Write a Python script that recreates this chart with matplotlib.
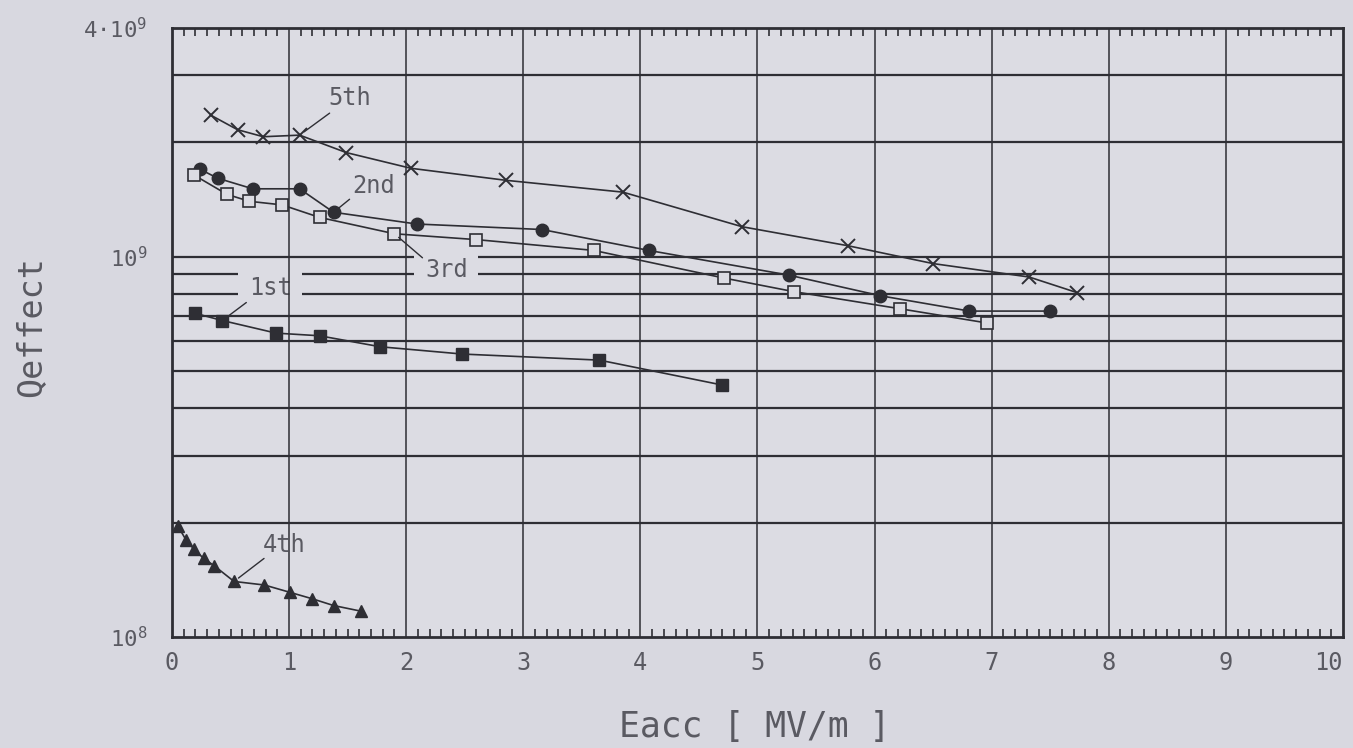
import matplotlib.pyplot as plt
from matplotlib.ticker import MultipleLocator, FixedLocator, NullFormatter

# values
x_1st = [0.20, 0.43, 0.89, 1.26, 1.78, 2.48, 3.65, 4.70]
q_1st = [7.1e8, 6.8e8, 6.3e8, 6.2e8, 5.8e8, 5.55e8, 5.35e8, 4.6e8]

x_2nd = [0.24, 0.39, 0.69, 1.09, 1.38, 2.09, 3.16, 4.07, 5.27, 6.05, 6.81, 7.50]
q_2nd = [1.70e9, 1.61e9, 1.51e9, 1.51e9, 1.31e9, 1.22e9, 1.18e9, 1.04e9, 8.95e8, 7.9e8, 7.2e8, 7.2e8]

x_3rd = [0.19, 0.47, 0.66, 0.94, 1.26, 1.90, 2.60, 3.60, 4.71, 5.31, 6.22, 6.96]
q_3rd = [1.64e9, 1.46e9, 1.40e9, 1.37e9, 1.27e9, 1.15e9, 1.11e9, 1.04e9, 8.8e8, 8.1e8, 7.3e8, 6.7e8]

x_4th = [0.05, 0.12, 0.19, 0.27, 0.36, 0.53, 0.79, 1.01, 1.20, 1.38, 1.61]
q_4th = [1.96e8, 1.80e8, 1.70e8, 1.61e8, 1.54e8, 1.40e8, 1.37e8, 1.31e8, 1.26e8, 1.21e8, 1.17e8]

x_5th = [0.33, 0.56, 0.78, 1.09, 1.49, 2.04, 2.85, 3.85, 4.87, 5.77, 6.50, 7.32, 7.73]
q_5th = [2.36e9, 2.16e9, 2.07e9, 2.09e9, 1.88e9, 1.71e9, 1.59e9, 1.48e9, 1.20e9, 1.07e9, 9.6e8, 8.85e8, 8.05e8]

xtick_vals = list(range(0, 11))
ytick_vals = [1e8, 1e9, 4e9]
ytick_text = [r'$10^8$', r'$10^9$', r'$4{\cdot}10^9$']
ygrid_vals = [2e8, 3e8, 4e8, 5e8, 6e8, 7e8, 8e8, 9e8, 1e9, 2e9, 3e9]

plt.rcParams['font.family'] = ['DejaVu Sans Mono', 'DejaVu Sans']
plt.rcParams['mathtext.fontset'] = 'custom'
plt.rcParams['mathtext.rm'] = 'DejaVu Sans Mono'
plt.rcParams['mathtext.it'] = 'DejaVu Sans Mono'

bg = '#d8d8e0'
ink = '#2e2e34'
txt = '#5a5a62'

fig = plt.figure(figsize=(13.53, 7.48), dpi=100, facecolor=bg)
ax = fig.add_axes([0.1271, 0.1484, 0.8655, 0.8142], facecolor='#dcdce3')

ax.set_yscale('log')
ax.set_xlim(0, 10)
ax.set_ylim(1e8, 4e9)

# horizontal grid (under the label boxes), vertical grid above them
for v in ygrid_vals:
    ax.axhline(v, color=ink, lw=1.6, zorder=1)
for v in range(1, 10):
    ax.axvline(v, color=ink, lw=1.1, zorder=2.5)

line_kw = dict(color=ink, lw=1.2, zorder=4)
ax.plot(x_5th, q_5th, marker='x', ms=10, mew=1.4, **line_kw)
ax.plot(x_2nd, q_2nd, marker='o', ms=9, mfc=ink, mec=ink, **line_kw)
ax.plot(x_3rd, q_3rd, marker='s', ms=9, mfc='#dcdce3', mec=ink, mew=1.2, **line_kw)
ax.plot(x_1st, q_1st, marker='s', ms=9, mfc=ink, mec=ink, **line_kw)
ax.plot(x_4th, q_4th, marker='^', ms=9, mfc=ink, mec=ink, **line_kw)

# curve labels with leader lines (offsets in pixels)
labels = [
    ('5th', x_5th[3], q_5th[3], (30, 22), (50, 37), False),
    ('2nd', x_2nd[4], q_2nd[4], (16, 13), (40, 26), False),
    ('3rd', x_3rd[5], q_3rd[5], (28, -24), (52, -36), True),
    ('1st', x_1st[1], q_1st[1], (24, 18), (48, 33), True),
    ('4th', x_4th[5], q_4th[5], (30, 23), (50, 36), False),
]
for name, lx, ly, lead, toff, boxed in labels:
    ax.annotate('', xy=(lx, ly), xytext=lead, textcoords='offset pixels',
                arrowprops=dict(arrowstyle='-', color=ink, lw=1.0,
                                shrinkA=0, shrinkB=4), zorder=5)
    kw = {}
    if boxed:
        kw['bbox'] = dict(boxstyle='square,pad=0.45', fc='#dcdce3', ec='none')
    ax.annotate(name, xy=(lx, ly), xytext=toff,
                textcoords='offset pixels', ha='center', va='center',
                fontsize=17, color=txt, zorder=2, **kw)

# axes styling
ax.set_xticks(xtick_vals)
ax.set_xticklabels([str(v) for v in xtick_vals])
ax.get_xticklabels()[-1].set_horizontalalignment('right')
ax.xaxis.set_minor_locator(MultipleLocator(0.1))
ax.tick_params(axis='x', which='both', direction='in', top=True, bottom=True,
               colors=ink, labelcolor=txt, labelsize=17, pad=10)
ax.tick_params(axis='x', which='major', length=0)
ax.tick_params(axis='x', which='minor', length=6, width=1.2)

ax.yaxis.set_major_locator(FixedLocator(ytick_vals))
ax.set_yticklabels(ytick_text)
ax.yaxis.set_minor_locator(FixedLocator([]))
ax.yaxis.set_minor_formatter(NullFormatter())
ax.tick_params(axis='y', which='both', length=0, labelcolor=txt,
               labelsize=16, pad=18)

for s in ax.spines.values():
    s.set_color(ink)
    s.set_linewidth(2)
    s.set_zorder(6)

ax.set_xlabel('Eacc [ MV/m ]', fontsize=25, color=txt)
ax.xaxis.set_label_coords(0.498, -0.12)
ax.set_ylabel('Qeffect', fontsize=24, color=txt)
ax.yaxis.set_label_coords(-0.106, 0.51)

plt.savefig('out.png', dpi=100, facecolor=bg)
plt.close()
